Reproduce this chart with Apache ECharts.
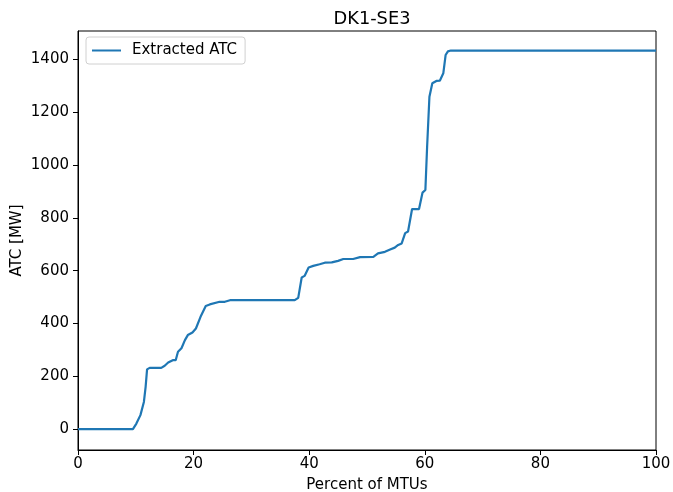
<!DOCTYPE html>
<html>
<head>
<meta charset="utf-8">
<script src="https://cdn.jsdelivr.net/npm/echarts@6/dist/echarts.min.js"></script>
<style>html,body{margin:0;padding:0;background:#fff}#c{width:673px;height:492px}</style>
</head>
<body>
<div id="c"></div>
<script>
const title = "DK1-SE3";
const seriesName = "Extracted ATC";
const xLabel = "Percent of MTUs";
const yLabel = "ATC [MW]";
const xTicks = [0, 20, 40, 60, 80, 100];
const yTicks = [0, 200, 400, 600, 800, 1000, 1200, 1400];
const pct = [0, 9.5, 10.1, 10.8, 11.4, 11.7, 11.95, 12.4, 14.4, 15.0, 15.6, 16.4, 16.9, 17.3, 17.9, 18.5, 19.0, 19.8, 20.4, 21.2, 22.1, 22.8, 24.5, 25.4, 26.3, 37.5, 38.1, 38.7, 39.2, 39.9, 40.7, 41.8, 42.7, 43.9, 45.0, 45.9, 47.6, 48.8, 51.1, 51.9, 53.1, 54.0, 54.8, 55.4, 56.0, 56.6, 57.1, 57.8, 59.0, 59.6, 60.1, 60.4, 60.8, 61.3, 62.0, 62.6, 63.2, 63.6, 64.0, 64.5, 100];
const atc = [0, 0, 21, 53, 103, 160, 226, 232, 232, 240, 252, 261, 261, 293, 306, 337, 356, 366, 381, 425, 466, 472, 482, 482, 488, 488, 497, 574, 580, 612, 618, 624, 630, 631, 637, 644, 644, 651, 652, 665, 671, 680, 687, 697, 703, 742, 748, 833, 833, 895, 905, 1069, 1258, 1309, 1318, 1319, 1347, 1416, 1430, 1433, 1433];

const font = "DejaVu Sans";
const fs = 15;
const chart = echarts.init(document.getElementById('c'), null, {renderer: 'canvas'});
chart.setOption({
  animation: false,
  backgroundColor: '#fff',
  title: {
    text: title, left: 367, top: 5, textAlign: 'center',
    textStyle: {fontFamily: font, fontSize: 17.8, fontWeight: 'normal', color: '#000'}
  },
  legend: {
    left: 86, top: 37, orient: 'vertical',
    data: [seriesName],
    icon: 'rect', itemWidth: 29, itemHeight: 2, itemGap: 0,
    padding: [6, 8, 6, 6],
    borderColor: '#d0d0d0', borderWidth: 1, borderRadius: 3,
    backgroundColor: 'rgba(255,255,255,0.8)',
    textStyle: {fontFamily: font, fontSize: fs, color: '#000', padding: [0, 0, 0, 6]}
  },
  grid: {left: 78, right: 17, top: 31, bottom: 42, show: true, borderColor: '#000', borderWidth: 1, containLabel: false, outerBoundsMode: 'none'},
  xAxis: {
    type: 'value', min: 0, max: 100, interval: 20,
    name: xLabel, nameLocation: 'middle', nameGap: 28, nameMoveOverlap: false,
    nameTextStyle: {fontFamily: font, fontSize: fs, color: '#000'},
    axisLine: {show: true, onZero: false, lineStyle: {color: '#000', width: 1}},
    axisTick: {show: true, length: 5, inside: false, lineStyle: {color: '#000'}, customValues: xTicks},
    axisLabel: {fontFamily: font, fontSize: fs, color: '#000', margin: 7, customValues: xTicks},
    splitLine: {show: false}
  },
  yAxis: {
    type: 'value', min: -79, max: 1507,
    name: yLabel, nameLocation: 'middle', nameGap: 53, nameRotate: 90, nameMoveOverlap: false,
    nameTextStyle: {fontFamily: font, fontSize: fs, color: '#000'},
    axisLine: {show: true, onZero: false, lineStyle: {color: '#000', width: 1}},
    axisTick: {show: true, length: 5, lineStyle: {color: '#000'}, customValues: yTicks},
    axisLabel: {fontFamily: font, fontSize: fs, color: '#000', margin: 9, customValues: yTicks, formatter: v => String(v)},
    splitLine: {show: false}
  },
  series: [{
    name: seriesName, type: 'line',
    data: pct.map((x, i) => [x, atc[i]]),
    showSymbol: false, symbol: 'none',
    lineStyle: {color: '#1f77b4', width: 2.2},
    itemStyle: {color: '#1f77b4'}
  }]
});
</script>
</body>
</html>
